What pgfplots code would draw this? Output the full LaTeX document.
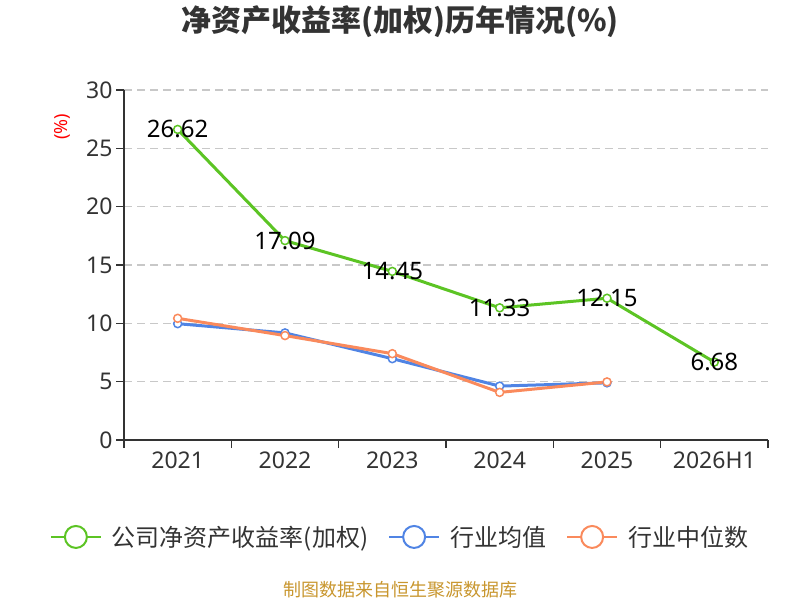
\documentclass[border=0pt]{standalone}
\usepackage{fontspec}
\setmainfont{Noto Sans}
\newfontfamily\cjk{Noto Sans CJK SC}
\usepackage{pgfplots}
\pgfplotsset{compat=1.18}
\definecolor{cgreen}{RGB}{92,196,36}
\definecolor{cblue}{RGB}{80,132,228}
\definecolor{corange}{RGB}{250,138,92}
\definecolor{ctext}{RGB}{51,51,51}
\definecolor{cgrid}{RGB}{200,200,200}
\definecolor{csrc}{RGB}{200,150,46}
\begin{document}
\begin{tikzpicture}[x=1pt,y=1pt]
\path[use as bounding box] (0,0) rectangle (800,600);
\node[font=\cjk\bfseries\fontsize{30}{34}\selectfont, text=ctext] at (400,578) {净资产收益率(加权)历年情况(\%)};
\node[font=\cjk\fontsize{18}{22}\selectfont, text=csrc] at (400,10) {制图数据来自恒生聚源数据库};
\node[rotate=90, text=red, font=\fontsize{18}{20}\selectfont] at (62,473) {(\%)};
\begin{axis}[
  at={(124pt,160pt)}, anchor=south west,
  scale only axis, width=644pt, height=350pt,
  xmin=-0.5, xmax=5.5, ymin=0, ymax=30,
  axis x line*=bottom, axis y line*=left,
  axis line style={ctext, line width=1.3pt, -},
  xtick={-0.5,0.5,...,5.5}, x tick label as interval,
  xticklabels={2021,2022,2023,2024,2025,2026H1},
  ytick={0,5,...,30},
  tick align=outside, major tick length=8pt,
  tick style={ctext, line width=1.3pt},
  ymajorgrids, grid style={cgrid, line width=1.2pt, dash pattern=on 8pt off 5pt},
  y tick label style={font=\fontsize{23}{26}\selectfont, text=ctext},
  x tick label style={font=\fontsize{23}{26}\selectfont, text=ctext},
  /pgf/number format/assume math mode=true,
  legend style={at={(axis description cs:0.4286,-0.277)}, anchor=center, draw=none, fill=none,
    legend columns=-1, font=\cjk\fontsize{24}{28}\selectfont, text=ctext,
    /tikz/every odd column/.append style={column sep=8pt},
    /tikz/every even column/.append style={column sep=18pt}},
  legend image code/.code={\draw[#1, line width=2pt] (0pt,0pt) -- (50pt,0pt); \draw[#1, line width=2pt, fill=white] (25pt,0pt) circle (11pt);},
]
\addlegendimage{cgreen}
\addlegendentry{公司净资产收益率(加权)}
\addlegendimage{cblue}
\addlegendentry{行业均值}
\addlegendimage{corange}
\addlegendentry{行业中位数}
\addplot[forget plot, cgreen, line width=3pt, mark=*, mark size=4pt,
  mark options={fill=white, draw=cgreen, line width=1.5pt},
  nodes near coords, point meta=explicit symbolic,
  every node near coord/.style={anchor=center, font=\fontsize{24}{28}\selectfont, text=black}]
  coordinates {(0,26.62)[26.62] (1,17.09)[17.09] (2,14.45)[14.45] (3,11.33)[11.33] (4,12.15)[12.15] (5,6.68)[6.68]};
\addplot[forget plot, cblue, line width=3pt, mark=*, mark size=4pt,
  mark options={fill=white, draw=cblue, line width=1.5pt}]
  coordinates {(0,9.97) (1,9.18) (2,6.97) (3,4.62) (4,4.90)};
\addplot[forget plot, corange, line width=3pt, mark=*, mark size=4pt,
  mark options={fill=white, draw=corange, line width=1.5pt}]
  coordinates {(0,10.43) (1,8.95) (2,7.40) (3,4.08) (4,4.98)};
\end{axis}
\end{tikzpicture}
\end{document}
